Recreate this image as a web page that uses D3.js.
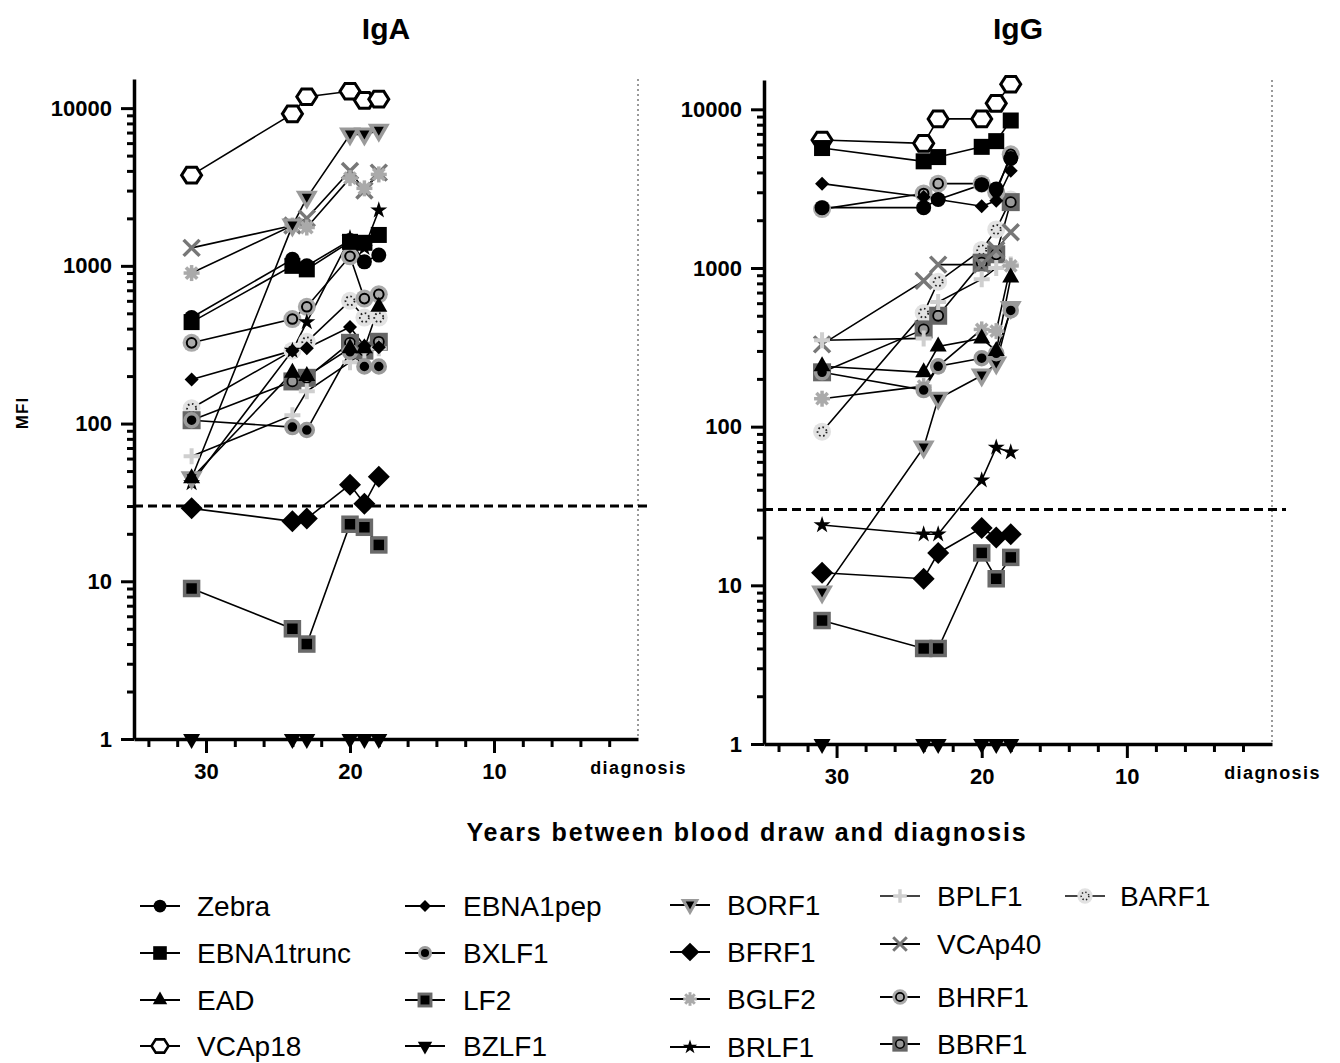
<!DOCTYPE html>
<html>
<head>
<meta charset="utf-8">
<script src="https://cdn.jsdelivr.net/npm/d3@7"></script>
<style>
  body { margin: 0; background: #fff; }
  text { font-family: "Liberation Sans", Arial, sans-serif; }
</style>
</head>
<body>
<div id="chart"></div>
<script>
// years before diagnosis at which blood was drawn
const years = [31, 24, 23, 20, 19, 18];
const antigens = ["Zebra", "EBNA1trunc", "EAD", "VCAp18", "EBNA1pep", "BXLF1", "LF2", "BZLF1",
  "BORF1", "BFRF1", "BGLF2", "BRLF1", "BPLF1", "VCAp40", "BHRF1", "BBRF1", "BARF1"];

// MFI per antigen (same order as antigens), one value per year
const igaMFI = [
  [470, 1100, 1000, 1450, 1060, 1170],
  [440, 1000, 950, 1420, 1400, 1570],
  [45, 210, 200, 300, 300, 550],
  [3760, 9200, 11800, 12800, 11200, 11400],
  [190, 290, 300, 410, 310, 305],
  [105, 95, 91, 285, 230, 230],
  [9, 5, 4, 23, 22, 17],
  [1, 1, 1, 1, 1, 1],
  [45, 1800, 2700, 6800, 6800, 7200],
  [29, 24, 25, 41, 31, 46],
  [900, 1800, 1750, 3600, 3100, 3800],
  [42, 290, 440, 1500, 1300, 2250],
  [62, 113, 160, 245, 290, 300],
  [1300, 1800, 2000, 4000, 3000, 3900],
  [325, 460, 550, 1150, 620, 660],
  [105, 185, 195, 325, 290, 330],
  [125, 290, 330, 600, 470, 470]
];
const iggMFI = [
  [2400, 2400, 2700, 3350, 3150, 4900],
  [5700, 4700, 5000, 5800, 6300, 8500],
  [240, 220, 320, 360, 300, 870],
  [6400, 6100, 8700, 8700, 10900, 14400],
  [3400, 2800, 2700, 2450, 2650, 4100],
  [220, 170, 240, 270, 290, 540],
  [6, 4, 4, 16, 11, 15],
  [1, 1, 1, 1, 1, 1],
  [9, 74, 150, 210, 250, 560],
  [12, 11, 16, 23, 20, 21],
  [150, 180, 240, 410, 400, 1030],
  [24, 21, 21, 46, 74, 69],
  [350, 360, 610, 850, 1000, 1050],
  [330, 830, 1050, 1050, 1300, 1680],
  [2350, 2950, 3400, 3400, 3000, 5200],
  [220, 410, 500, 1080, 1220, 2600],
  [93, 520, 820, 1300, 1750, 2700]
];
const yMajorTicks = [1, 10, 100, 1000, 10000];
const xMajorTicks = [30, 20, 10, 0];
const cutoff = 30;

const width = 1340, height = 1063;
const svg = d3.select("#chart").append("svg")
  .attr("width", width).attr("height", height);

// marker drawing, keyed by antigen
function marker(g, name, s) {
  s = s || 1;
  const p = g.append("g").attr("transform", `scale(${s})`);
  const sym = (type, size) => d3.symbol().type(type).size(size)();
  switch (name) {
    case "Zebra":
      p.append("circle").attr("r", 7.5).attr("fill", "#000"); break;
    case "EBNA1trunc":
      p.append("rect").attr("x", -8).attr("y", -8).attr("width", 16).attr("height", 16).attr("fill", "#000"); break;
    case "EAD":
      p.append("path").attr("d", "M0,-10L8.5,5L-8.5,5Z").attr("fill", "#000"); break;
    case "VCAp18": {
      const pts = d3.range(6).map(i => [10 * Math.cos(i * Math.PI / 3), 9 * Math.sin(i * Math.PI / 3)]);
      p.append("path").attr("d", "M" + pts.join("L") + "Z")
        .attr("fill", "#fff").attr("stroke", "#000").attr("stroke-width", 3);
      break;
    }
    case "EBNA1pep":
      p.append("path").attr("d", "M0,-7L7,0L0,7L-7,0Z").attr("fill", "#000"); break;
    case "BXLF1":
      p.append("circle").attr("r", 6.5).attr("fill", "#000").attr("stroke", "#9a9a9a").attr("stroke-width", 3.5); break;
    case "LF2":
      p.append("rect").attr("x", -7).attr("y", -7).attr("width", 14).attr("height", 14)
        .attr("fill", "#000").attr("stroke", "#6a6a6a").attr("stroke-width", 3.5); break;
    case "BZLF1":
      p.append("path").attr("d", "M-8.5,-5L8.5,-5L0,10Z").attr("fill", "#000"); break;
    case "BORF1":
      p.append("path").attr("d", "M-11,-7L11,-7L0,12Z").attr("fill", "#9a9a9a");
      p.append("path").attr("d", "M-5,-4L5,-4L0,5Z").attr("fill", "#000");
      break;
    case "BFRF1":
      p.append("path").attr("d", "M0,-11L11,0L0,11L-11,0Z").attr("fill", "#000"); break;
    case "BGLF2":
      [0, 45, 90, 135].forEach(a => p.append("line").attr("x1", -8).attr("x2", 8)
        .attr("transform", `rotate(${a})`).attr("stroke", "#aaa").attr("stroke-width", 3.5));
      p.append("circle").attr("r", 5).attr("fill", "#aaa");
      break;
    case "BRLF1":
      p.append("path").attr("d", sym(d3.symbolStar, 90)).attr("fill", "#000"); break;
    case "BPLF1":
      p.append("path").attr("d", "M-8,0L8,0M0,-8L0,8").attr("stroke", "#cfcfcf").attr("stroke-width", 4); break;
    case "VCAp40":
      p.append("path").attr("d", "M-8,-8L8,8M-8,8L8,-8").attr("stroke", "#777").attr("stroke-width", 3.5); break;
    case "BHRF1":
      p.append("circle").attr("r", 9).attr("fill", "#aaa");
      p.append("circle").attr("r", 4.8).attr("fill", "#aaa").attr("stroke", "#000").attr("stroke-width", 2);
      break;
    case "BBRF1":
      p.append("rect").attr("x", -9).attr("y", -9).attr("width", 18).attr("height", 18).attr("fill", "#666");
      p.append("circle").attr("r", 5).attr("fill", "#999").attr("stroke", "#000").attr("stroke-width", 1.8);
      break;
    case "BARF1":
      p.append("circle").attr("r", 9).attr("fill", "#e2e2e2");
      p.append("circle").attr("r", 4.5).attr("fill", "none").attr("stroke", "#222")
        .attr("stroke-width", 1.8).attr("stroke-dasharray", "1.6,2.6");
      break;
  }
}

const panels = [
  { title: "IgA", data: igaMFI, left: 134, right: 638, top: 79, bottom: 739 },
  { title: "IgG", data: iggMFI, left: 764, right: 1272, top: 80, bottom: 744 }
];

panels.forEach(pn => {
  const x = d3.scaleLinear().domain([35, 0]).range([pn.left, pn.right]);
  const y = d3.scaleLog().domain([1, 15300]).range([pn.bottom, pn.top]);
  const g = svg.append("g");

  // title
  g.append("text").attr("x", (pn.left + pn.right) / 2).attr("y", 39)
    .attr("text-anchor", "middle").attr("font-size", 30).attr("font-weight", "bold").text(pn.title);

  // diagnosis dotted line
  g.append("line").attr("x1", x(0)).attr("x2", x(0)).attr("y1", pn.top).attr("y2", pn.bottom)
    .attr("stroke", "#999").attr("stroke-width", 2).attr("stroke-dasharray", "2,3");

  // y minor ticks
  const yMinor = [];
  yMajorTicks.forEach(t => d3.range(2, 10).forEach(k => { if (t * k <= 15300) yMinor.push(t * k); }));
  g.append("g").attr("transform", `translate(${pn.left},0)`)
    .call(d3.axisLeft(y).tickValues(yMinor).tickSize(7).tickSizeOuter(0).tickFormat(""))
    .call(a => a.select(".domain").remove())
    .call(a => a.selectAll("line").attr("stroke-width", 3));
  // y major ticks
  g.append("g").attr("transform", `translate(${pn.left},0)`)
    .call(d3.axisLeft(y).tickValues(yMajorTicks).tickSize(13).tickSizeOuter(0).tickPadding(9).tickFormat(d3.format("d")))
    .call(a => a.select(".domain").attr("stroke-width", 3.5))
    .call(a => a.selectAll("line").attr("stroke-width", 3))
    .call(a => a.selectAll("text").attr("font-size", 22).attr("font-weight", "bold")
      .attr("font-family", "'Liberation Sans', Arial, sans-serif").attr("fill", "#000"));

  // x minor ticks
  const xMinor = d3.range(34, 0, -2).filter(v => v % 10 !== 0);
  g.append("g").attr("transform", `translate(0,${pn.bottom})`)
    .call(d3.axisBottom(x).tickValues(xMinor).tickSize(8).tickSizeOuter(0).tickFormat(""))
    .call(a => a.select(".domain").remove())
    .call(a => a.selectAll("line").attr("stroke-width", 3));
  g.append("g").attr("transform", `translate(0,${pn.bottom})`)
    .call(d3.axisBottom(x).tickValues(xMajorTicks).tickSize(14).tickSizeOuter(0).tickPadding(10)
      .tickFormat(d => d === 0 ? "diagnosis" : d))
    .call(a => a.select(".domain").attr("stroke-width", 3.5))
    .call(a => a.selectAll("line").attr("stroke-width", 3))
    .call(a => a.selectAll("text").attr("font-size", 22).attr("font-weight", "bold")
      .attr("font-family", "'Liberation Sans', Arial, sans-serif").attr("fill", "#000"))
    .call(a => a.selectAll(".tick").filter(d => d === 0).select("line").remove())
    .call(a => a.selectAll(".tick").filter(d => d === 0).select("text")
      .attr("font-size", 18).attr("y", 22).attr("letter-spacing", 1.4));

  // cutoff line
  g.append("line").attr("x1", pn.left).attr("x2", pn.right + 14)
    .attr("y1", y(cutoff)).attr("y2", y(cutoff))
    .attr("stroke", "#000").attr("stroke-width", 3).attr("stroke-dasharray", "9,5");

  // series, drawn last-to-first so first legend entries sit on top
  const line = d3.line().x((d, i) => x(years[i])).y(d => y(d));
  const order = d3.range(antigens.length).reverse();
  order.forEach(si => {
    g.append("path").datum(pn.data[si]).attr("d", line)
      .attr("fill", "none").attr("stroke", "#000").attr("stroke-width", 1.6);
  });
  order.forEach(si => {
    pn.data[si].forEach((v, i) => {
      const m = g.append("g").attr("transform", `translate(${x(years[i])},${y(v)})`);
      marker(m, antigens[si]);
    });
  });
});

// axis titles
svg.append("text").attr("transform", "translate(28,413) rotate(-90)")
  .attr("text-anchor", "middle").attr("font-size", 17).attr("font-weight", "bold")
  .attr("letter-spacing", 1).text("MFI");
svg.append("text").attr("x", 747).attr("y", 841).attr("text-anchor", "middle")
  .attr("font-size", 25).attr("font-weight", "bold").attr("letter-spacing", 1.9)
  .text("Years between blood draw and diagnosis");

// legend
const legendCols = [
  { sx: 160, lx: 197, rows: [906, 953, 1000, 1046] },
  { sx: 425, lx: 463, rows: [906, 953, 1000, 1046] },
  { sx: 690, lx: 727, rows: [905, 952, 999, 1047] },
  { sx: 900, lx: 937, rows: [896, 944, 997, 1044] },
  { sx: 1085, lx: 1120, rows: [896] }
];
let li = 0;
legendCols.forEach(c => {
  c.rows.forEach(ry => {
    const name = antigens[li++];
    const lg = svg.append("g");
    const light = name === "BPLF1" || name === "BARF1";
    lg.append("line").attr("x1", c.sx - 20).attr("x2", c.sx + 20).attr("y1", ry).attr("y2", ry)
      .attr("stroke", light ? "#444" : "#000").attr("stroke-width", 2);
    const m = lg.append("g").attr("transform", `translate(${c.sx},${ry})`);
    marker(m, name, 0.85);
    lg.append("text").attr("x", c.lx).attr("y", ry).attr("dy", "0.36em")
      .attr("font-size", 28).text(name);
  });
});
</script>
</body>
</html>
